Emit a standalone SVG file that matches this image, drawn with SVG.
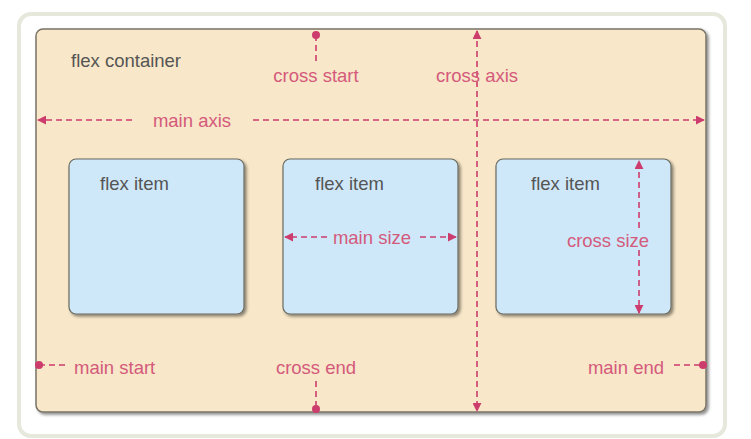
<svg xmlns="http://www.w3.org/2000/svg" width="751" height="439" viewBox="0 0 751 439">
<defs>
<style>
.lbl{font-family:"Liberation Sans",Arial,sans-serif;font-size:18.5px;fill:#d45a7c}
.dark{font-family:"Liberation Sans",Arial,sans-serif;font-size:18.5px;fill:#555}
.ln{stroke:#cc3d6e;stroke-width:1.6;stroke-dasharray:6,4;fill:none}
.item{fill:#cee8f9;stroke:#6a6a60;stroke-width:1.2}
</style>
<marker id="ah" viewBox="0 0 10 10" refX="9" refY="5" markerWidth="9" markerHeight="9" markerUnits="userSpaceOnUse" orient="auto-start-reverse">
<path d="M0,0 L10,5 L0,10 z" fill="#cc3d6e"/>
</marker>
<marker id="dot" viewBox="0 0 10 10" refX="5" refY="5" markerWidth="8" markerHeight="8" markerUnits="userSpaceOnUse">
<circle cx="5" cy="5" r="5" fill="#cc3d6e"/>
</marker>
<filter id="sh" x="-5%" y="-5%" width="115%" height="115%">
<feDropShadow dx="2" dy="2" stdDeviation="1.5" flood-color="#000" flood-opacity="0.45"/>
</filter>
</defs>
<rect x="0" y="0" width="751" height="439" fill="#fff"/>
<rect x="19" y="14" width="706" height="422" rx="12" fill="#fff" stroke="#e5e8da" stroke-width="4"/>
<g id="container">
<rect x="36" y="29" width="670" height="383" rx="7" fill="#f8e7c8" stroke="#7a7468" stroke-width="1.5" filter="url(#sh)"/>
<text class="dark" x="71" y="67">flex container</text>
</g>
<g id="item1">
<rect class="item" x="69" y="159" width="175" height="155" rx="7" filter="url(#sh)"/>
<text class="dark" x="100" y="190">flex item</text>
</g>
<g id="item2">
<rect class="item" x="283" y="159" width="175" height="155" rx="7" filter="url(#sh)"/>
<text class="dark" x="315" y="190">flex item</text>
</g>
<g id="item3">
<rect class="item" x="496" y="159" width="175" height="155" rx="7" filter="url(#sh)"/>
<text class="dark" x="531" y="190">flex item</text>
</g>
<g id="connectors">
<line class="ln" x1="132" y1="120" x2="38" y2="120" marker-end="url(#ah)"/>
<line class="ln" x1="253" y1="120" x2="704" y2="120" marker-end="url(#ah)"/>
<line class="ln" x1="477" y1="31" x2="477" y2="411" marker-start="url(#ah)" marker-end="url(#ah)"/>
<line class="ln" x1="316" y1="35" x2="316" y2="62" marker-start="url(#dot)"/>
<line class="ln" x1="316" y1="381" x2="316" y2="409" marker-end="url(#dot)"/>
<line class="ln" x1="39" y1="365" x2="66" y2="365" stroke-dasharray="4,4" marker-start="url(#dot)"/>
<line class="ln" x1="674" y1="365" x2="703" y2="365" stroke-dasharray="4,4" marker-end="url(#dot)"/>
<line class="ln" x1="327" y1="237" x2="285" y2="237" stroke-dasharray="5,4" marker-end="url(#ah)"/>
<line class="ln" x1="420" y1="237" x2="456" y2="237" stroke-dasharray="5,4" marker-end="url(#ah)"/>
<line class="ln" x1="639" y1="228" x2="639" y2="161" marker-end="url(#ah)"/>
<line class="ln" x1="639" y1="250" x2="639" y2="313" marker-end="url(#ah)"/>
</g>
<g id="labels">
<text class="lbl" x="316" y="82" text-anchor="middle">cross start</text>
<text class="lbl" x="477" y="82" text-anchor="middle">cross axis</text>
<text class="lbl" x="192" y="127" text-anchor="middle">main axis</text>
<text class="lbl" x="372" y="244" text-anchor="middle">main size</text>
<text class="lbl" x="608" y="247" text-anchor="middle">cross size</text>
<text class="lbl" x="74" y="374">main start</text>
<text class="lbl" x="316" y="374" text-anchor="middle">cross end</text>
<text class="lbl" x="664" y="374" text-anchor="end">main end</text>
</g>
</svg>
